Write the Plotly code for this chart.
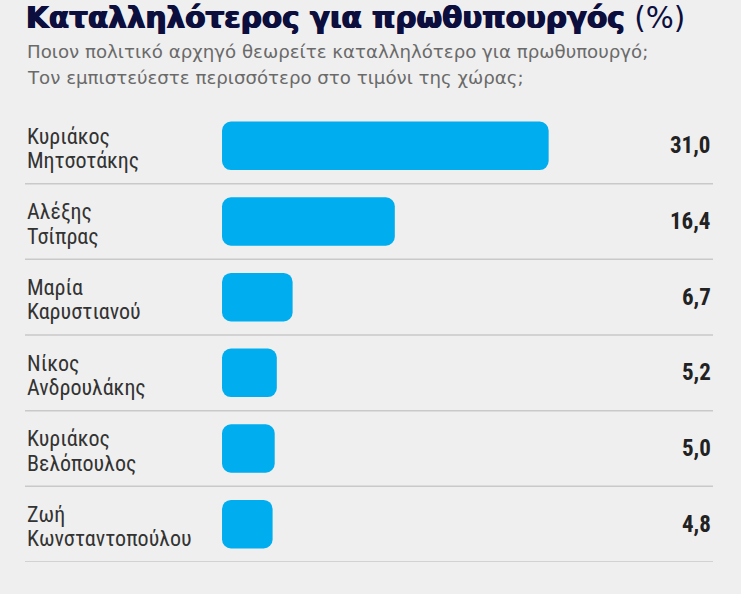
import plotly.graph_objects as go

first_names = ["Κυριάκος", "Αλέξης", "Μαρία", "Νίκος", "Κυριάκος", "Ζωή"]
last_names = ["Μητσοτάκης", "Τσίπρας", "Καρυστιανού", "Ανδρουλάκης", "Βελόπουλος", "Κωνσταντοπούλου"]
values = [31.0, 16.4, 6.7, 5.2, 5.0, 4.8]
value_labels = ["31,0", "16,4", "6,7", "5,2", "5,0", "4,8"]
title_main = "Καταλληλότερος για πρωθυπουργός"
title_suffix = "(%)"
subtitle_lines = ["Ποιον πολιτικό αρχηγό θεωρείτε καταλληλότερο για πρωθυπουργό;",
                  "Τον εμπιστεύεστε περισσότερο στο τιμόνι της χώρας;"]

idx = list(range(len(values)))
BG = "#efefef"
BAR = "#00adef"
NAVY = "#0c0e3d"

fig = go.Figure()
fig.add_trace(go.Bar(x=values, y=idx, base=[0] * len(values), orientation="h",
                     marker=dict(color=BAR, line=dict(width=0)),
                     width=0.64, hoverinfo="skip"))

fig.update_layout(
    width=741, height=594,
    paper_bgcolor=BG, plot_bgcolor=BG,
    margin=dict(l=25, r=28, t=108, b=32),
    showlegend=False,
    barcornerradius=9,
    xaxis=dict(range=[-18.7, 46.6], visible=False, fixedrange=True),
    yaxis=dict(range=[5.5, -0.5], visible=False, fixedrange=True),
)

shapes = []
for i in idx:
    shapes.append(dict(type="line", xref="paper", yref="y", x0=0, x1=1,
                       y0=i + 0.5, y1=i + 0.5, line=dict(color="#c9c9c9", width=1.5)))
fig.update_layout(shapes=shapes)

COND = "Roboto Condensed, Roboto"
ann = []
for i in idx:
    ann.append(dict(xref="paper", yref="y", x=0, y=i, yshift=9.7, xanchor="left", yanchor="middle",
                    text=first_names[i], showarrow=False,
                    font=dict(family=COND, size=22, color="#333333")))
    ann.append(dict(xref="paper", yref="y", x=0, y=i, yshift=-14.8, xanchor="left", yanchor="middle",
                    text=last_names[i], showarrow=False,
                    font=dict(family=COND, size=22, color="#333333")))
    ann.append(dict(xref="paper", yref="y", x=1, y=i, xanchor="right", yanchor="middle",
                    text="<b>" + value_labels[i] + "</b>", showarrow=False,
                    font=dict(family=COND, size=23, color="#222222")))

ann.append(dict(xref="paper", yref="paper", x=0, y=1, yshift=108, borderpad=0,
                xanchor="left", yanchor="top", showarrow=False, align="left",
                text="<span style='font-weight:bold;text-shadow:0.7px 0 0 " + NAVY + ",-0.7px 0 0 " + NAVY + "'>"
                     + title_main + "</span> " + title_suffix,
                font=dict(family="DejaVu Sans", size=29.5, color=NAVY)))
for k, line in enumerate(subtitle_lines):
    ann.append(dict(xref="paper", yref="paper", x=0, y=1, yshift=57 - 26 * k,
                    xanchor="left", yanchor="middle", showarrow=False, align="left",
                    text=line,
                    font=dict(family="DejaVu Sans", size=18.2, color="#6a6a6a")))
fig.update_layout(annotations=ann)

fig.write_html("out.html", config={"displayModeBar": False},
               post_script="document.body.style.margin='0';document.body.style.overflow='hidden';")
